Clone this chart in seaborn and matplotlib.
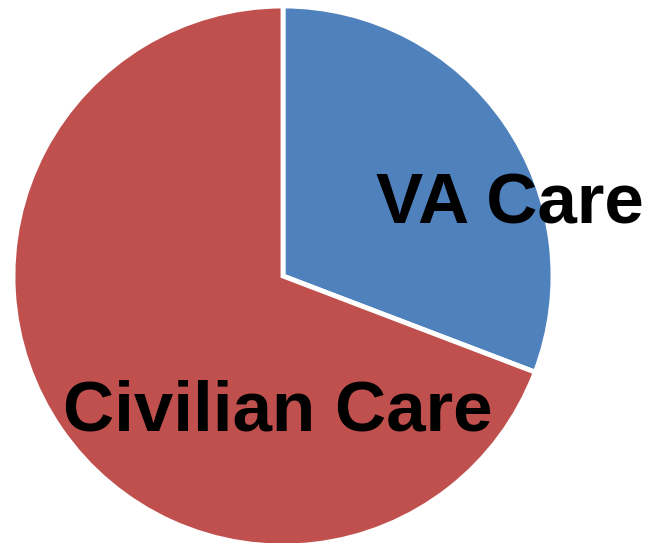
import matplotlib
matplotlib.use("Agg")
import matplotlib.pyplot as plt
import seaborn as sns

labels = ["VA Care", "Civilian Care"]
shares = [30.8, 69.2]
colors = ["#4F81BD", "#C0504D"]

# where the labels sit, in pie units (radius 1)
label_xy = [(0.84, 0.196), (-0.02, -0.574)]

sns.set_style("white")
plt.rcParams["font.family"] = ["Liberation Sans", "DejaVu Sans"]

fig = plt.figure(figsize=(6.53, 5.43), dpi=100)
r = 270
ax = fig.add_axes([(283 - r) / 653, (267 - r) / 543, 2 * r / 653, 2 * r / 543])

wedges, _ = ax.pie(shares, colors=colors, startangle=90, counterclock=False,
                   wedgeprops=dict(edgecolor="white", linewidth=3.5))
ax.set_xlim(-1, 1)
ax.set_ylim(-1, 1)
ax.set_aspect("equal")

for lab, (x, y) in zip(labels, label_xy):
    ax.text(x, y, lab, ha="center", va="baseline", fontsize=51,
            fontweight="bold", color="black", clip_on=False)

ax.axis("off")
fig.savefig("out.png", dpi=100)
